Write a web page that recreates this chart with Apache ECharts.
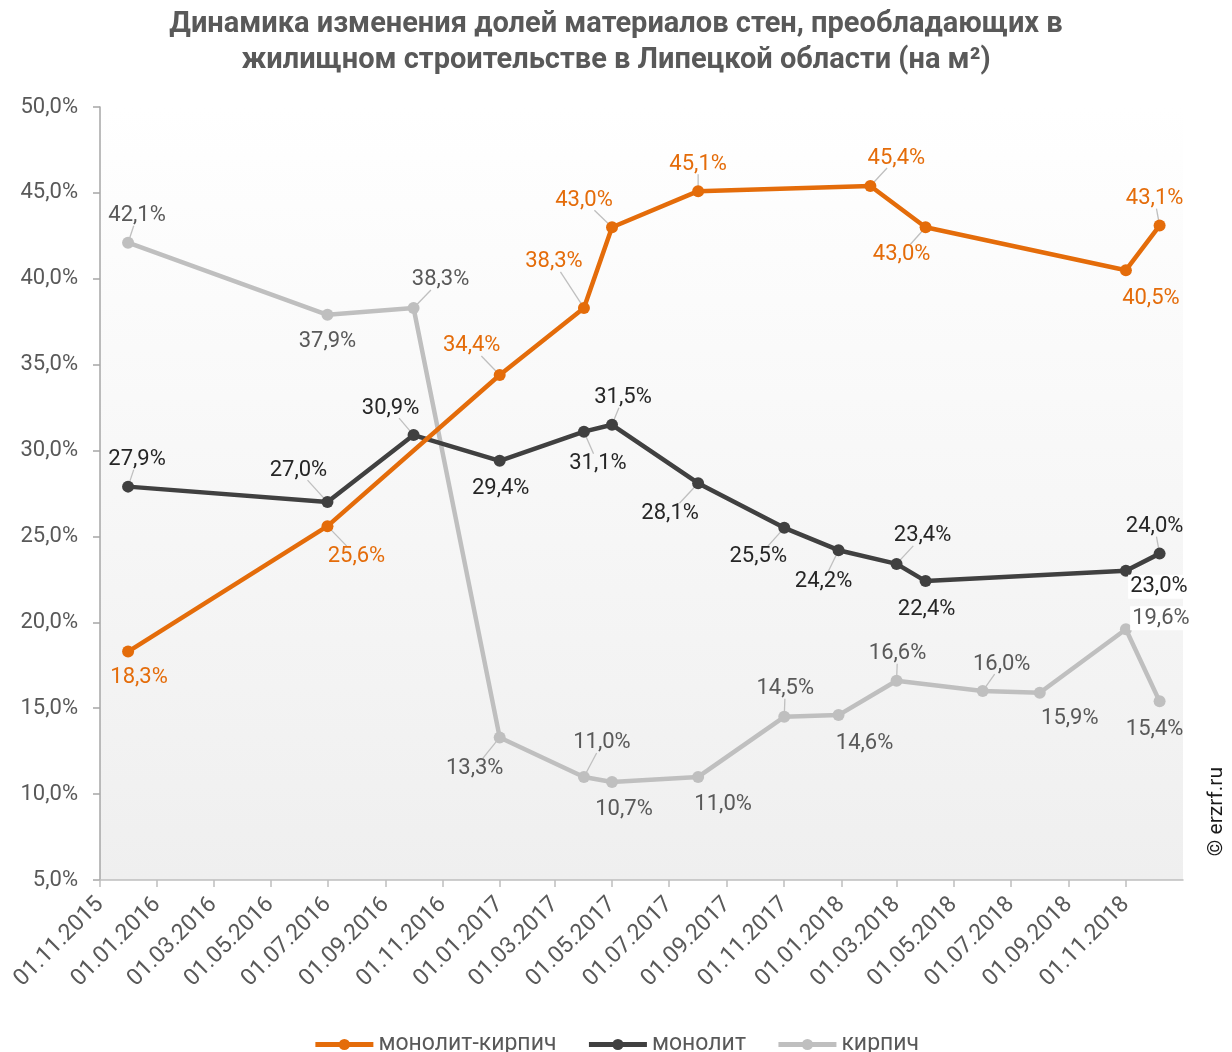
<!DOCTYPE html>
<html><head><meta charset="utf-8">
<script src="https://cdn.jsdelivr.net/npm/echarts@6/dist/echarts.min.js"></script>
<style>html,body{margin:0;padding:0;background:#fff}#c{width:1232px;height:1052px}</style>
</head><body><div id="c"></div>
<script>
// ---- data ----
const dates = ['2015-12-01','2016-07-01','2016-10-01','2017-01-01','2017-04-01','2017-05-01','2017-08-01','2017-11-01','2017-12-29','2018-02-01','2018-03-01','2018-04-01','2018-06-01','2018-08-01','2018-11-01','2018-12-07'];
const monolithBrick = [18.3,25.6,null,34.4,38.3,43.0,45.1,null,null,45.4,null,43.0,null,null,40.5,43.1];
const monolith      = [27.9,27.0,30.9,29.4,31.1,31.5,28.1,25.5,24.2,null,23.4,22.4,null,null,23.0,24.0];
const brick         = [42.1,37.9,38.3,13.3,11.0,10.7,11.0,14.5,14.6,null,16.6,null,16.0,15.9,19.6,15.4];
const seriesNames = ['монолит-кирпич','монолит','кирпич'];
const xTickDates = ['2015-11-01','2016-01-01','2016-03-01','2016-05-01','2016-07-01','2016-09-01','2016-11-01','2017-01-01','2017-03-01','2017-05-01','2017-07-01','2017-09-01','2017-11-01','2018-01-01','2018-03-01','2018-05-01','2018-07-01','2018-09-01','2018-11-01'];
const xMin = '2015-11-01', xMax = '2019-01-01';
const yMin = 5, yMax = 50, yStep = 5;
const titleLines = ['Динамика изменения долей материалов стен, преобладающих в','жилищном строительстве в Липецкой области (на м²)'];
const copyright = '© erzrf.ru';

// ---- label placement (style only): [dx, dy, leader line?] of label centre from point ----
const offA = [[11,26,0],[29,30,1],null,[-28,-29,1],[-30,-46,1],[-28,-27,1],[0,-27,1],null,null,[26,-28,1],null,[-24,27,1],null,null,[25,28,0],[-5,-27,1]];
const offB = [[9,-27,1],[-29,-32,1],[-23,-27,1],[1,28,0],[14,32,1],[11,-27,1],[-28,30,1],[-26,29,1],[-15,31,1],null,[26,-28,1],[1,28,0],null,null,[33,16,0],[-5,-27,1]];
const offC = [[9,-27,1],[0,27,0],[27,-28,1],[-25,31,1],[18,-34,1],[12,27,0],[25,28,0],[1,-28,1],[26,28,0],null,[1,-27,1],null,[19,-27,1],[30,26,0],[35,-11,0],[-5,28,0]];
const whiteBg = [[],[14],[14]];

function ts(s){const p=s.split('-').map(Number);return Date.UTC(p[0],p[1]-1,p[2]);}
function fmtDate(v){const d=new Date(v);const z=n=>(n<10?'0':'')+n;return z(d.getUTCDate())+'.'+z(d.getUTCMonth()+1)+'.'+d.getUTCFullYear();}
function pct(v){return v.toFixed(1).replace('.',',')+'%';}

const FONT = 'Roboto';
const LABEL_SIZE = 22;
const colors = ['#E46C0A','#404040','#BFBFBF'];
const labelColors = ['#E46C0A','#262626','#595959'];

function build(values, offs, idx){
  const out=[];
  values.forEach((v,i)=>{
    if(v==null) return;
    const o=offs[i];
    const item={value:[ts(dates[i]),v], label:{offset:[o[0],o[1]]}};
    if(whiteBg[idx].indexOf(i)>=0){ item.label.backgroundColor='#ffffff'; item.label.padding=[1,2]; }
    out.push(item);
  });
  return {
    name: seriesNames[idx], type:'line', data: out,
    symbol:'circle', symbolSize:12, z: 10-idx,
    lineStyle:{width:4.5,color:colors[idx]},
    itemStyle:{color:colors[idx]},
    label:{show:true, position:'inside', formatter:p=>pct(p.value[1]), color:labelColors[idx], fontSize:LABEL_SIZE, fontFamily:FONT},
    emphasis:{disabled:true}, animation:false
  };
}

// leader lines: from the point toward the label box edge
function leaders(values, offs, idx){
  const d=[];
  values.forEach((v,i)=>{ if(v==null) return; const o=offs[i]; if(o[2]) d.push([ts(dates[i]), v, o[0], o[1]]); });
  return {
    type:'custom', z: 1, silent:true, animation:false, data:d,
    encode:{x:0,y:1},
    renderItem:(params, api)=>{
      const p=api.coord([api.value(0), api.value(1)]);
      const dx=api.value(2), dy=api.value(3);
      const hw=27, hh=10;
      const f = 1 - Math.min(dx!==0?hw/Math.abs(dx):1e9, dy!==0?hh/Math.abs(dy):1e9);
      if(f<=0) return null;
      return {type:'line', shape:{x1:p[0], y1:p[1], x2:p[0]+dx*f, y2:p[1]+dy*f},
        style:{stroke:'#BFBFBF', lineWidth:1.3}};
    }
  };
}

const xTicks = xTickDates.map(ts);
const chart = echarts.init(document.getElementById('c'), null, {renderer:'canvas'});
chart.setOption({
  backgroundColor:'#ffffff',
  animation:false,
  title:{text: titleLines.join('\n'), left:'center', top:2,
    textStyle:{fontFamily:FONT, fontSize:29, fontWeight:'bold', color:'#595959', lineHeight:36}},
  legend:{bottom:-9, left:'center', itemWidth:58, itemHeight:14, itemGap:30,
    lineStyle:{width:5}, itemStyle:{borderWidth:0},
    textStyle:{fontFamily:FONT, fontSize:23, color:'#595959'}, data: seriesNames},
  grid:{left:100, right:49, top:107, bottom:172, show:true, borderWidth:0,
    backgroundColor: new echarts.graphic.LinearGradient(0,0,0,1,[{offset:0,color:'#ffffff'},{offset:1,color:'#efefef'}])},
  xAxis:{type:'value', min:ts(xMin), max:ts(xMax), scale:true,
    axisLine:{show:true, lineStyle:{color:'#BFBFBF', width:1.5}},
    axisTick:{show:true, length:7, customValues: xTicks, lineStyle:{color:'#BFBFBF', width:1.5}},
    axisLabel:{customValues: xTicks, rotate:45, formatter:v=>fmtDate(v), color:'#595959', fontSize:23, fontFamily:FONT, margin:21},
    splitLine:{show:false}},
  yAxis:{type:'value', min:yMin, max:yMax, interval:yStep,
    axisLine:{show:true, lineStyle:{color:'#A6A6A6', width:1.5}},
    axisTick:{show:true, length:7, lineStyle:{color:'#A6A6A6', width:1.5}},
    axisLabel:{formatter:v=>pct(v), color:'#595959', fontSize:22, fontFamily:FONT, margin:22},
    splitLine:{show:false}},
  graphic:[{type:'text', left:1206, top:767, rotation:Math.PI/2,
    style:{text:copyright, font:'21px '+FONT, fill:'#1a1a1a'}}],
  series:[
    build(monolithBrick, offA, 0),
    build(monolith, offB, 1),
    build(brick, offC, 2),
    leaders(monolithBrick, offA, 0),
    leaders(monolith, offB, 1),
    leaders(brick, offC, 2)
  ]
});
</script></body></html>
